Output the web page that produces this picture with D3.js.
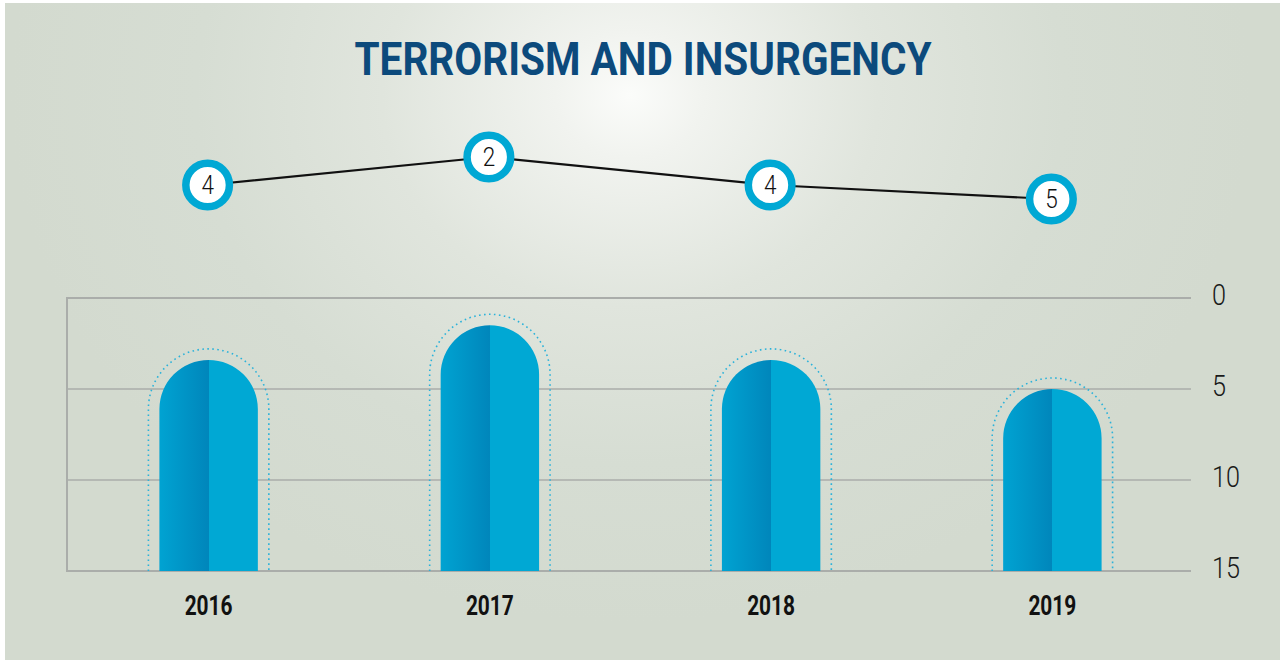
<!DOCTYPE html>
<html><head><meta charset="utf-8">
<script src="https://cdn.jsdelivr.net/npm/d3@7/dist/d3.min.js"></script>
<style>html,body{margin:0;padding:0;background:#fff;}svg{display:block;}</style>
</head><body>
<svg id="c" width="1280" height="660"></svg>
<script>
const years = ["2016", "2017", "2018", "2019"];
const barValues = [3.4, 1.5, 3.4, 5.0];
const rankValues = [4, 2, 4, 5];
const yTicks = [0, 5, 10, 15];
const titleText = "TERRORISM AND INSURGENCY";

const svg = d3.select("#c");
const defs = svg.append("defs");
const bg = defs.append("radialGradient").attr("id","bg").attr("gradientUnits","userSpaceOnUse")
  .attr("cx",630).attr("cy",95).attr("r",620)
  .attr("gradientTransform","translate(630,95) scale(1,0.85) translate(-630,-95)");
[[0,"#fbfcfa"],[0.12,"#f1f3ef"],[0.4,"#e0e5dd"],[0.7,"#d6ddd3"],[1,"#d3dacf"]].forEach(([o,c])=>bg.append("stop").attr("offset",o).attr("stop-color",c));
const bf = defs.append("linearGradient").attr("id","barfill").attr("x1",0).attr("x2",1).attr("y1",0).attr("y2",0);
[[0,"#00a3d2"],[0.5,"#0086bb"],[0.5,"#00a8d4"],[1,"#00a8d4"]].forEach(([o,c])=>bf.append("stop").attr("offset",o).attr("stop-color",c));

svg.append("rect").attr("x",5).attr("y",3).attr("width",1275).attr("height",657).attr("fill","url(#bg)");

const x = d3.scaleBand().domain(years).range([68, 1193]).paddingInner(0.65).paddingOuter(0.325);
const y = d3.scaleLinear().domain([0, 15]).range([298, 571]);
const yLine = d3.scaleLinear().domain([0, 5]).range([129, 199]);

// title
svg.append("text").attr("x",643).attr("y",75).attr("text-anchor","middle")
  .attr("font-family","Roboto, 'Liberation Sans', sans-serif").attr("font-weight",700)
  .attr("font-size",46).attr("fill","#0c4a7c")
  .attr("textLength",577).attr("lengthAdjust","spacingAndGlyphs").text(titleText);

// grid
const g = svg.append("g");
g.selectAll("line.grid").data(yTicks).join("line").attr("class","grid")
  .attr("x1",67).attr("x2",1191).attr("y1",d=>y(d)).attr("y2",d=>y(d))
  .attr("stroke","#aaadaa").attr("stroke-width",d=>(d===0||d===15)?2:1.5);
g.append("line").attr("x1",67).attr("x2",67).attr("y1",y(0)-1).attr("y2",y(15)+1)
  .attr("stroke","#aaadaa").attr("stroke-width",2);
g.selectAll("text.tick").data(yTicks).join("text").attr("class","tick")
  .attr("x",1212).attr("y",d=>y(d)+7)
  .attr("font-family","Roboto, sans-serif").attr("font-weight",300).attr("font-size",29).attr("fill","#1a1a1a")
  .attr("textLength",d=>String(d).length*14).attr("lengthAdjust","spacingAndGlyphs")
  .text(d=>d);

// bars
const bw = x.bandwidth(), r = bw/2, bottom = y(15);
function barPath(x0, w, top, rad){
  return `M${x0},${bottom}V${top+rad}A${rad},${rad} 0 0 1 ${x0+w},${top+rad}V${bottom}Z`;
}
function outlinePath(x0, w, top, rad, off){
  const R = rad+off;
  return `M${x0-off},${bottom}V${top+rad}A${R},${R} 0 0 1 ${x0+w+off},${top+rad}V${bottom}`;
}
svg.selectAll("path.outline").data(years).join("path").attr("class","outline")
  .attr("d",(d,i)=>outlinePath(x(d), bw, y(barValues[i]), r, 11))
  .attr("fill","none").attr("stroke","#2bb2da").attr("stroke-width",1.6).attr("stroke-dasharray","1.6,3.4");
svg.selectAll("path.bar").data(years).join("path").attr("class","bar")
  .attr("d",(d,i)=>barPath(x(d), bw, y(barValues[i]), r))
  .attr("fill","url(#barfill)");

// year labels
svg.selectAll("text.year").data(years).join("text").attr("class","year")
  .attr("x",d=>x(d)+bw/2).attr("y",615).attr("text-anchor","middle")
  .attr("font-family","Roboto, sans-serif").attr("font-weight",700).attr("font-size",27).attr("fill","#111")
  .attr("textLength",48).attr("lengthAdjust","spacingAndGlyphs").text(d=>d);

// line
const line = d3.line().x((d,i)=>x(years[i])+bw/2 - 1).y(d=>yLine(d));
svg.append("path").attr("d",line(rankValues)).attr("fill","none").attr("stroke","#111").attr("stroke-width",2.2);
const mk = svg.selectAll("g.mk").data(rankValues).join("g").attr("class","mk")
  .attr("transform",(d,i)=>`translate(${x(years[i])+bw/2-1},${yLine(d)})`);
mk.append("circle").attr("r",21.8).attr("fill","#fff").attr("stroke","#00a8d4").attr("stroke-width",7.5);
mk.append("text").attr("y",8.5).attr("text-anchor","middle")
  .attr("font-family","Roboto, sans-serif").attr("font-weight",300).attr("font-size",25).attr("fill","#111")
  .attr("textLength",12.5).attr("lengthAdjust","spacingAndGlyphs").text(d=>d);
</script>
</body></html>
